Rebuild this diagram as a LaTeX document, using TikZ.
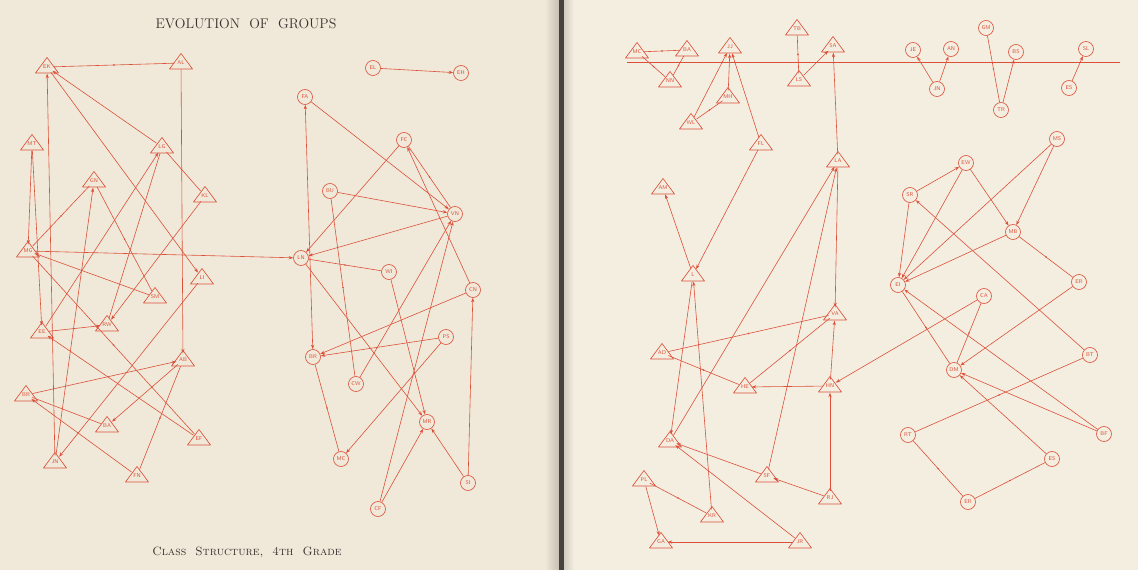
\documentclass[tikz,border=0pt]{standalone}
\usepackage{fontspec}
\usetikzlibrary{arrows.meta}
\definecolor{rd}{RGB}{220,80,58}
\definecolor{pageL}{RGB}{240,233,217}
\definecolor{pageR}{RGB}{244,238,225}
\definecolor{ink}{RGB}{55,50,45}
\definecolor{gut}{RGB}{70,66,62}
\tikzset{
 ln/.style={draw=rd, line width=0.6pt},
 ar/.style={ln, -{Stealth[length=4.5pt,width=3.2pt]}},
 bo/.style={ln, {Stealth[length=4.5pt,width=3.2pt]}-{Stealth[length=4.5pt,width=3.2pt]}},
 tk/.style={circle, fill=rd, inner sep=0pt, minimum size=1.8pt},
 tl/.style={circle, inner sep=0pt, minimum size=13pt, text=rd, font=\sffamily\fontsize{5.5}{6}\selectfont},
 cn/.style={circle, draw=rd, line width=0.65pt, inner sep=0pt, minimum size=15pt, text=rd, font=\sffamily\fontsize{5.5}{6}\selectfont},
 trib/.style={draw=rd, line width=0.65pt, line join=round},
}
\newcommand{\tri}[3]{\node[tl] (#1) at (#2) {#3}; \draw[trib] (#1.center) ++(0,-9.5) -- ++(11.5,15.5) -- ++(-23,0) -- cycle;}
\begin{document}
\begin{tikzpicture}[x=1pt,y=-1pt]
\useasboundingbox (0,0) rectangle (1138,570);
\fill[pageL] (0,0) rectangle (560,570);
\fill[pageR] (560,0) rectangle (1138,570);
\shade[left color=pageL, right color=gut!25!pageL] (545,0) rectangle (559,570);
\fill[gut] (559,0) rectangle (564,570);
\shade[left color=gut!20!pageR, right color=pageR] (564,0) rectangle (574,570);

\node[text=ink, font=\fontsize{14}{16}\selectfont] (title) at (246,24) {EVOLUTION\ \ OF\ \ GROUPS};
\node[text=ink, font=\fontsize{12}{15}\selectfont] (caption) at (247,552) {\textsc{Class\ \ Structure,\ \ 4th\ \ Grade}};

% ---------- left page: triangles ----------
\tri{EK}{47,67}{EK}
\tri{AL}{181,63}{AL}
\tri{MT}{32,144}{MT}
\tri{LG}{162,147}{LG}
\tri{GN}{94,181}{GN}
\tri{KL}{205,196}{KL}
\tri{MG}{28,251}{MG}
\tri{LI}{202,278}{LI}
\tri{SM}{155,297}{SM}
\tri{EE}{42,332}{EE}
\tri{RW}{107,325}{RW}
\tri{AB}{183,360}{AB}
\tri{BR}{26,395}{BR}
\tri{BA}{107,426}{BA}
\tri{EF}{199,439}{EF}
\tri{JN}{55,462}{JN}
\tri{FN}{137,476}{FN}

% ---------- left page: circles ----------
\node[cn] (EL) at (373,68) {EL};
\node[cn] (EH) at (461,73) {EH};
\node[cn] (FA) at (305,97) {FA};
\node[cn] (FC) at (404,140) {FC};
\node[cn] (BU) at (330,191) {BU};
\node[cn] (VN) at (455,214) {VN};
\node[cn] (lLN) at (301,258) {LN};
\node[cn] (WI) at (389,272) {WI};
\node[cn] (CN) at (473,290) {CN};
\node[cn] (PS) at (446,337) {PS};
\node[cn] (lBR) at (313,357) {BR};
\node[cn] (CW) at (356,384) {CW};
\node[cn] (MR) at (427,422) {MR};
\node[cn] (lMC) at (341,459) {MC};
\node[cn] (SI) at (468,483) {SI};
\node[cn] (CF) at (378,509) {CF};

% ---------- right page: triangles ----------
\tri{rMC}{637,52}{MC}
\tri{rBA}{687,50}{BA}
\tri{NN}{670,81}{NN}
\tri{JJ}{730,47}{JJ}
\tri{TB}{797,29}{TB}
\tri{SA}{833,46}{SA}
\tri{LS}{799,80}{LS}
\tri{MH}{728,97}{MH}
\tri{WL}{691,123}{WL}
\tri{FL}{761,144}{FL}
\tri{LA}{838,161}{LA}
\tri{AM}{663,188}{AM}
\tri{L}{693,275}{L}
\tri{VA}{835,314}{VA}
\tri{AD}{662,353}{AD}
\tri{HE}{745,387}{HE}
\tri{HN}{830,386}{HN}
\tri{DA}{670,441}{DA}
\tri{SF}{767,476}{SF}
\tri{PL}{644,480}{PL}
\tri{RJ}{830,498}{RJ}
\tri{KR}{712,516}{KR}
\tri{GA}{661,542}{GA}
\tri{JR}{800,542}{JR}

% ---------- right page: circles ----------
\node[cn] (JE) at (913,50) {JE};
\node[cn] (AN) at (951,49) {AN};
\node[cn] (GM) at (986,28) {GM};
\node[cn] (BS) at (1016,52) {BS};
\node[cn] (rJN) at (937,89) {JN};
\node[cn] (TR) at (1001,110) {TR};
\node[cn] (SL) at (1086,49) {SL};
\node[cn] (ES) at (1069,88) {ES};
\node[cn] (MS) at (1057,139) {MS};
\node[cn] (EW) at (966,163) {EW};
\node[cn] (SR) at (910,195) {SR};
\node[cn] (MB) at (1013,232) {MB};
\node[cn] (EI) at (898,285) {EI};
\node[cn] (CA) at (984,296) {CA};
\node[cn] (ER) at (1079,282) {ER};
\node[cn] (BT) at (1090,355) {BT};
\node[cn] (DM) at (954,370) {DM};
\node[cn] (RT) at (908,435) {RT};
\node[cn] (BF) at (1104,434) {BF};
\node[cn] (ESb) at (1052,459) {ES};
\node[cn] (ERb) at (968,502) {ER};

\coordinate (h1) at (627,62);
\coordinate (h2) at (1120,62);
\draw[ln] (h1) -- (h2);

% ---------- left triangle edges ----------
\draw[ln] (EK) -- node[tk]{} (AL);
\draw[ar] (AL) -- (AB);
\draw[ar] (JN) -- (EK);
\draw[ar] (LG) -- (EK);
\draw[ar] (EK) -- (LI);
\draw[ar] (MT) -- (MG);
\draw[ar] (MT) -- (EE);
\draw[ln] (MG) -- node[tk]{} (GN);
\draw[ar] (JN) -- (GN);
\draw[ln] (GN) -- node[tk]{} (SM);
\draw[ln] (LG) -- (KL);
\draw[ar] (EE) -- (LG);
\draw[ln] (RW) -- (LG);
\draw[ar] (KL) -- (RW);
\draw[ar] (MG) -- (lLN);
\draw[ar] (SM) -- (MG);
\draw[ln] (MG) -- node[tk]{} (EF);
\draw[ar] (EE) -- (RW);
\draw[ar] (LI) -- (JN);
\draw[ar] (BR) -- (AB);
\draw[ln] (BR) -- (BA);
\draw[ar] (FN) -- (BR);
\draw[ar] (AB) -- (BA);
\draw[ln] (AB) -- node[tk]{} (FN);
\draw[ar] (EF) -- (EE);

% ---------- left circle edges ----------
\draw[ar] (EL) -- (EH);
\draw[bo] (FA) -- (lBR);
\draw[ar] (FA) -- (VN);
\draw[ar] (FC) -- (lLN);
\draw[ln] (FC) -- node[tk]{} (VN);
\draw[ar] (CN) -- (FC);
\draw[ar] (BU) -- (VN);
\draw[ln] (BU) -- node[tk]{} (CW);
\draw[ar] (VN) -- (lLN);
\draw[ln] (lLN) -- node[tk]{} (WI);
\draw[ar] (lLN) -- (MR);
\draw[ar] (WI) -- (MR);
\draw[ar] (CN) -- (lBR);
\draw[ar] (SI) -- (CN);
\draw[ar] (PS) -- (lBR);
\draw[ar] (PS) -- (lMC);
\draw[ar] (CW) -- (VN);
\draw[ar] (CF) -- (VN);
\draw[ar] (CF) -- (MR);
\draw[ar] (SI) -- (MR);
\draw[ln] (lMC) -- node[tk]{} (lBR);

% ---------- right triangle edges ----------
\draw[ln] (rMC) -- node[tk]{} (rBA);
\draw[ln] (rMC) -- node[tk]{} (NN);
\draw[ln] (rBA) -- node[tk]{} (NN);
\draw[ar] (MH) -- (JJ);
\draw[ar] (WL) -- (JJ);
\draw[ln] (MH) -- node[tk]{} (WL);
\draw[ar] (FL) -- (JJ);
\draw[ln] (TB) -- node[tk]{} (LS);
\draw[ar] (LS) -- (SA);
\draw[ar] (LA) -- (SA);
\draw[ar] (L) -- (AM);
\draw[ar] (FL) -- (L);
\draw[ar] (LA) -- (VA);
\draw[ar] (DA) -- (LA);
\draw[ar] (SF) -- (LA);
\draw[ar] (L) -- (DA);
\draw[ar] (KR) -- (L);
\draw[ln] (VA) -- node[tk]{} (AD);
\draw[ar] (HN) -- (VA);
\draw[ln] (VA) -- node[tk]{} (HE);
\draw[ln] (AD) -- node[tk]{} (HE);
\draw[ar] (HN) -- (HE);
\draw[ar] (CA) -- (HN);
\draw[ar] (SF) -- (DA);
\draw[ar] (JR) -- (DA);
\draw[ar] (RJ) -- (SF);
\draw[ar] (RJ) -- (HN);
\draw[ar] (PL) -- (GA);
\draw[ln] (PL) -- node[tk]{} (KR);
\draw[ar] (JR) -- (GA);

% ---------- right circle edges ----------
\draw[ar] (rJN) -- (JE);
\draw[ar] (rJN) -- (AN);
\draw[ln] (GM) -- node[tk]{} (TR);
\draw[ar] (TR) -- (BS);
\draw[ar] (ES) -- (SL);
\draw[ar] (SR) -- (EW);
\draw[ar] (SR) -- (EI);
\draw[ar] (EW) -- (EI);
\draw[ar] (EW) -- (MB);
\draw[ar] (MS) -- (EI);
\draw[ar] (MS) -- (MB);
\draw[ar] (MB) -- (EI);
\draw[ln] (MB) -- node[tk]{} (ER);
\draw[ln] (EI) -- node[tk]{} (DM);
\draw[ar] (BF) -- (EI);
\draw[ar] (BT) -- (SR);
\draw[ln] (BT) -- node[tk]{} (RT);
\draw[ln] (CA) -- node[tk]{} (DM);
\draw[ar] (ER) -- (DM);
\draw[ar] (BF) -- (DM);
\draw[ar] (ESb) -- (DM);
\draw[ln] (RT) -- node[tk]{} (ERb);
\draw[ln] (ERb) -- node[tk]{} (ESb);
\end{tikzpicture}
\end{document}
